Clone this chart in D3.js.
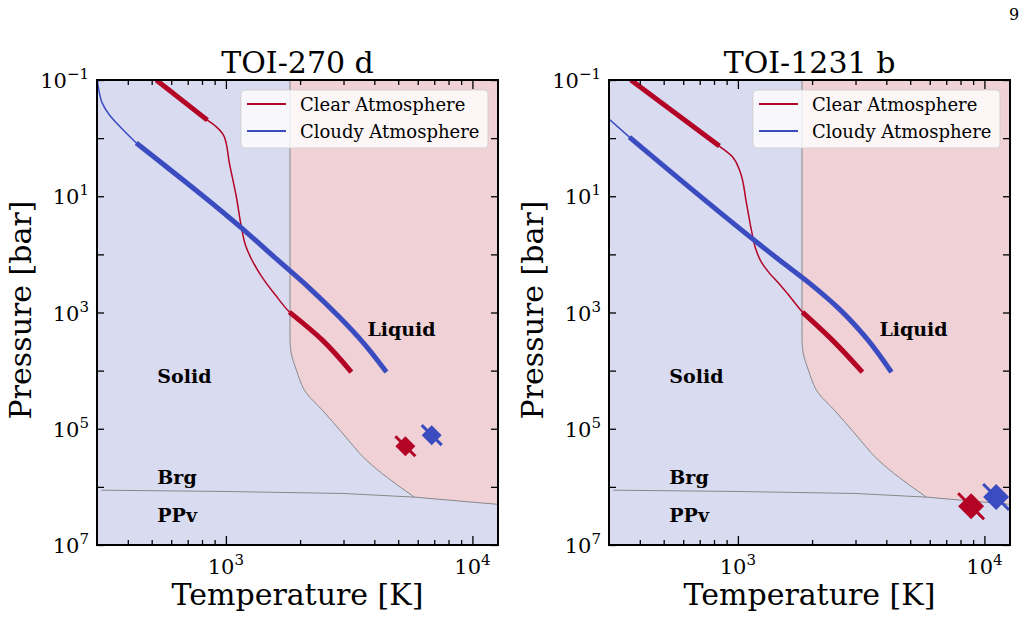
<!DOCTYPE html>
<html lang="en">
<head>
<meta charset="UTF-8">
<title>TOI-270 d / TOI-1231 b pressure-temperature profiles</title>
<script src="https://d3js.org/d3.v7.min.js"></script>
<style>
  body { margin: 0; background: #fff; }
  svg { display: block; font-family: "DejaVu Serif", serif; }
</style>
</head>
<body>
<svg id="chart" width="1025" height="640"></svg>
<script>
// ---- data: temperature in K, pressure in bar ----
const panelTitles = ["TOI-270 d", "TOI-1231 b"];
const seriesNames = ["Clear Atmosphere", "Cloudy Atmosphere"];

// TOI-270 d, clear atmosphere
const clearT_270 = [522, 841, 915, 986, 1033, 1103, 1156, 1200, 1269, 1393, 1588, 1810, 2463, 3228];
const clearP_270 = [0.1, 0.49, 0.64, 0.96, 2.7, 10.3, 34, 69, 120, 236, 501, 984, 2985, 10600];
const clearThick_270 = [[0.1, 0.49], [984, 10600]];
// TOI-270 d, cloudy atmosphere
const cloudyT_270 = [301, 307, 315, 337, 360, 433, 1156, 1603, 2182, 2886, 3647, 4479];
const cloudyP_270 = [0.1, 0.17, 0.25, 0.40, 0.55, 1.21, 35, 120, 380, 1200, 3500, 10600];
const cloudyThick_270 = [[1.21, 10600]];
// TOI-270 d surface points
const surfT_270 = [5346, 6838];
const surfP_270 = [2.0e5, 1.29e5];

// TOI-1231 b, clear atmosphere
const clearT_1231 = [368, 841, 950, 1014, 1083, 1134, 1178, 1245, 1342, 1473, 1618, 1827, 2417, 3199];
const clearP_1231 = [0.1, 1.37, 2.1, 3.5, 13.1, 38, 78, 136, 210, 324, 522, 984, 2985, 10600];
const clearThick_1231 = [[0.1, 1.37], [984, 10600]];
// TOI-1231 b, cloudy atmosphere
const cloudyT_1231 = [300, 363, 1473, 1950, 2581, 3321, 4195];
const cloudyP_1231 = [0.47, 0.96, 125, 312, 873, 2760, 10600];
const cloudyThick_1231 = [[0.96, 10600]];
// TOI-1231 b surface points
const surfT_1231 = [8831, 11158];
const surfP_1231 = [2.15e6, 1.49e6];

// MgSiO3 phase boundaries
const meltT = [1820, 1820, 1820, 1840, 1932, 2122, 2463, 2970, 3715, 5817];
const meltP = [0.1, 1000, 2990, 5000, 9800, 24400, 47900, 119000, 347000, 1.5e6];
const brgT = [312, 1000, 3000, 5817, 12700];
const brgP = [1.14e6, 1.2e6, 1.3e6, 1.5e6, 2.0e6];

const regionLabels = ["Liquid", "Solid", "Brg", "PPv"];
const regionT = [3750, 527, 527, 527];
const regionP = [2550, 16400, 9.0e5, 4.05e6];

// axis ticks
const xMajor = [1e3, 1e4];
const xMinor = [400, 500, 600, 700, 800, 900, 2000, 3000, 4000, 5000, 6000, 7000, 8000, 9000];
const yTicks = [1e-1, 1, 1e1, 1e2, 1e3, 1e4, 1e5, 1e6, 1e7];
const yLabelExp = [-1, 1, 3, 5, 7];
const xLabelExp = [3, 4];

// ---- layout / style ----
const panelLeft = [97, 609];
const panelW = 401, plotTop = 80, plotBottom = 545;
const red = "#b40426", blue = "#3b4cc0";
const solidFill = "#d9dcf1", liquidFill = "#efd1d6";
const markerSize = [10, 13];

const svg = d3.select("#chart");

const zip = (a, b) => a.map((v, i) => [v, b[i]]);
const pick = (pts, lo, hi) => pts.filter(p => p[1] >= lo * 0.999 && p[1] <= hi * 1.001);

const panels = [
  {
    clear: zip(clearT_270, clearP_270), clearThick: clearThick_270,
    cloudy: zip(cloudyT_270, cloudyP_270), cloudyThick: cloudyThick_270,
    surf: zip(surfT_270, surfP_270)
  },
  {
    clear: zip(clearT_1231, clearP_1231), clearThick: clearThick_1231,
    cloudy: zip(cloudyT_1231, cloudyP_1231), cloudyThick: cloudyThick_1231,
    surf: zip(surfT_1231, surfP_1231)
  }
];

// page number
svg.append("text").attr("x", 1014).attr("y", 20).attr("text-anchor", "middle")
  .attr("font-size", 16).text("9");

panels.forEach((d, i) => {
  const x0 = panelLeft[i];
  const x = d3.scaleLog().domain([300, 12700]).range([x0, x0 + panelW]);
  const y = d3.scaleLog().domain([0.1, 1e7]).range([plotTop, plotBottom]);
  const line = d3.line().x(p => x(p[0])).y(p => y(p[1])).curve(d3.curveMonotoneY);

  const clipId = "clip" + i;
  svg.append("clipPath").attr("id", clipId).append("rect")
    .attr("x", x0).attr("y", plotTop).attr("width", panelW).attr("height", plotBottom - plotTop);

  const plot = svg.append("g").attr("clip-path", `url(#${clipId})`);

  // phase regions
  plot.append("rect").attr("x", x0).attr("y", plotTop)
    .attr("width", panelW).attr("height", plotBottom - plotTop).attr("fill", solidFill);

  const melt = zip(meltT, meltP);
  const brg = zip(brgT, brgP);
  const tail = brg.filter(p => p[0] > meltT[meltT.length - 1]);
  let liquid = line(melt);
  tail.forEach(p => { liquid += "L" + x(p[0]) + "," + y(p[1]); });
  liquid += "L" + (x0 + panelW + 5) + "," + y(tail[tail.length - 1][1]);
  liquid += "L" + (x0 + panelW + 5) + "," + (plotTop - 5) + "Z";
  plot.append("path").attr("d", liquid).attr("fill", liquidFill);

  plot.append("path").attr("d", line(melt)).attr("fill", "none")
    .attr("stroke", "#888").attr("stroke-width", 1);
  plot.append("path").attr("d", d3.line().x(p => x(p[0])).y(p => y(p[1]))(brg))
    .attr("fill", "none").attr("stroke", "#888").attr("stroke-width", 1);

  // region labels
  regionLabels.forEach((t, k) => {
    plot.append("text").attr("x", x(regionT[k])).attr("y", y(regionP[k]))
      .attr("font-size", 19).attr("font-weight", "bold").text(t);
  });

  // profiles
  [[d.clear, d.clearThick, red], [d.cloudy, d.cloudyThick, blue]].forEach(([pts, thick, col]) => {
    plot.append("path").attr("d", line(pts)).attr("fill", "none")
      .attr("stroke", col).attr("stroke-width", 1.5);
    thick.forEach(([lo, hi]) => {
      plot.append("path").attr("d", line(pick(pts, lo, hi))).attr("fill", "none")
        .attr("stroke", col).attr("stroke-width", 5).attr("stroke-linejoin", "round");
    });
  });

  // surface markers
  const ms = markerSize[i];
  d.surf.forEach((p, k) => {
    const col = k === 0 ? red : blue;
    const m = plot.append("g").attr("transform", `translate(${x(p[0])},${y(p[1])})`);
    m.append("line").attr("x1", -ms).attr("y1", -ms).attr("x2", ms).attr("y2", ms)
      .attr("stroke", col).attr("stroke-width", 3);
    m.append("path").attr("d", `M0,${-ms}L${ms},0L0,${ms}L${-ms},0Z`).attr("fill", col);
  });

  // legend
  const lg = svg.append("g").attr("transform", `translate(${x0 + 144},90)`);
  lg.append("rect").attr("width", 247).attr("height", 58).attr("rx", 4)
    .attr("fill", "#fff").attr("fill-opacity", 0.8)
    .attr("stroke", "#ccc").attr("stroke-opacity", 0.8);
  seriesNames.forEach((s, k) => {
    const ly = 14 + k * 27;
    lg.append("line").attr("x1", 6).attr("x2", 45).attr("y1", ly).attr("y2", ly)
      .attr("stroke", k === 0 ? red : blue).attr("stroke-width", 2);
    lg.append("text").attr("x", 59).attr("y", ly + 6.5).attr("font-size", 18).text(s);
  });

  // ticks (inward, all four sides)
  const styleTicks = g => {
    g.select(".domain").remove();
    g.selectAll("line").attr("stroke", "#000").attr("stroke-width", 1.3);
  };
  svg.append("g").attr("transform", `translate(0,${plotBottom})`)
    .call(d3.axisBottom(x).tickValues(xMajor).tickSize(-9).tickFormat("")).call(styleTicks);
  svg.append("g").attr("transform", `translate(0,${plotBottom})`)
    .call(d3.axisBottom(x).tickValues(xMinor).tickSize(-5).tickFormat("")).call(styleTicks);
  svg.append("g").attr("transform", `translate(0,${plotTop})`)
    .call(d3.axisTop(x).tickValues(xMajor).tickSize(-9).tickFormat("")).call(styleTicks);
  svg.append("g").attr("transform", `translate(0,${plotTop})`)
    .call(d3.axisTop(x).tickValues(xMinor).tickSize(-5).tickFormat("")).call(styleTicks);
  svg.append("g").attr("transform", `translate(${x0},0)`)
    .call(d3.axisLeft(y).tickValues(yTicks).tickSize(-7).tickFormat("")).call(styleTicks);
  svg.append("g").attr("transform", `translate(${x0 + panelW},0)`)
    .call(d3.axisRight(y).tickValues(yTicks).tickSize(-7).tickFormat("")).call(styleTicks);

  // tick labels
  xLabelExp.forEach(e => {
    const t = svg.append("text").attr("x", x(Math.pow(10, e))).attr("y", 574)
      .attr("text-anchor", "middle").attr("font-size", 21).text("10");
    t.append("tspan").attr("dy", -9).attr("font-size", 15).text(e);
  });
  yLabelExp.forEach(e => {
    const t = svg.append("text").attr("x", x0 - 8).attr("y", y(Math.pow(10, e)) + 8)
      .attr("text-anchor", "end").attr("font-size", 21).text("10");
    t.append("tspan").attr("dy", -9).attr("font-size", 15).text(String(e).replace("-", "\u2212"));
  });

  // frame
  svg.append("rect").attr("x", x0).attr("y", plotTop).attr("width", panelW)
    .attr("height", plotBottom - plotTop).attr("fill", "none")
    .attr("stroke", "#000").attr("stroke-width", 2);

  // titles and axis labels
  svg.append("text").attr("x", x0 + panelW / 2).attr("y", 73)
    .attr("text-anchor", "middle").attr("font-size", 30).text(panelTitles[i]);
  svg.append("text").attr("x", x0 + panelW / 2).attr("y", 605)
    .attr("text-anchor", "middle").attr("font-size", 30).text("Temperature [K]");
  svg.append("text").attr("transform", `translate(${x0 - 66},310) rotate(-90)`)
    .attr("text-anchor", "middle").attr("font-size", 30).text("Pressure [bar]");
});
</script>
</body>
</html>
